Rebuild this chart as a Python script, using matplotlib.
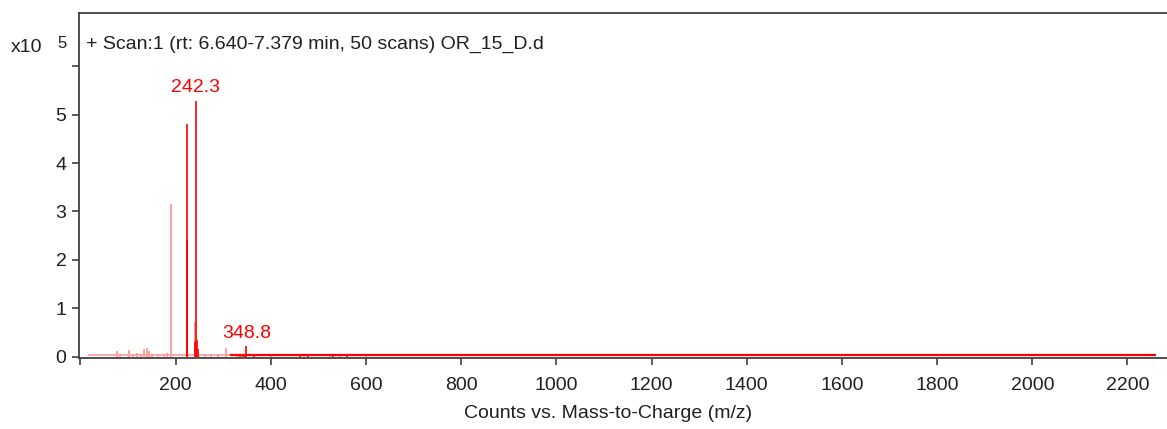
import matplotlib
matplotlib.use("Agg")
import matplotlib.pyplot as plt

plt.rcParams['font.family'] = ['Liberation Sans', 'DejaVu Sans']

# light (pink) spectrum: m/z and intensity (x10^5)
pink_mz = [77, 83, 103, 110, 119, 128, 133, 139, 144, 150, 162, 175, 181, 189.5, 241, 250, 262, 275, 290, 306, 330, 400, 470, 524, 545, 600]
pink_int = [0.12, 0.05, 0.13, 0.05, 0.07, 0.06, 0.15, 0.17, 0.12, 0.05, 0.05, 0.06, 0.07, 3.16, 0.71, 0.06, 0.05, 0.05, 0.06, 0.18, 0.04, 0.03, 0.03, 0.05, 0.04, 0.03]
pink_range = [15, 630]

# red spectrum
red_mz = [223.2, 224.2, 240.5, 242.3, 244.3, 246, 335, 341, 345, 348.8, 365, 462, 479, 530, 560]
red_int = [2.4, 4.81, 0.3, 5.29, 0.35, 0.15, 0.04, 0.05, 0.06, 0.21, 0.04, 0.04, 0.04, 0.03, 0.03]
red_range = [315, 2260]
baseline = 0.03

labels_mz = [242.3, 348.8]
labels_y = [5.29, 0.21]

xticks = [200, 400, 600, 800, 1000, 1200, 1400, 1600, 1800, 2000, 2200]
yticks = [0, 1, 2, 3, 4, 5]

fig = plt.figure(figsize=(11.67, 4.29), dpi=100)
ax = fig.add_axes([79/1167, 1-358/429, 1-79/1167, (358-13)/429])

pink = '#ffa0a0'
red = '#ff0000'
ax.plot(pink_range, [baseline, baseline], color=pink, lw=1.3, solid_capstyle='butt')
ax.vlines(pink_mz, 0, pink_int, color=pink, lw=1.4)
ax.plot(red_range, [baseline, baseline], color=red, lw=1.6, solid_capstyle='butt')
ax.vlines(red_mz, 0, red_int, color=red, lw=1.2)

for mz, y in zip(labels_mz, labels_y):
    ax.text(mz, y + 0.1, f"{mz:.1f}", color=red, fontsize=14, ha='center', va='bottom')

ax.set_xlim(-3, 2283)
ax.set_ylim(-0.03, 7.1)
ax.set_xticks([0] + xticks)
ax.set_xticklabels([''] + [str(t) for t in xticks])
ax.set_yticks(yticks + [6])
ax.set_yticklabels([str(t) for t in yticks] + [''])

spine_col = '#404040'
for s in ['left', 'top', 'bottom']:
    ax.spines[s].set_color(spine_col)
    ax.spines[s].set_linewidth(1.3)
ax.spines['right'].set_visible(False)
ax.tick_params(axis='both', colors=spine_col, labelcolor='#202020', length=5, width=1.2, labelsize=14)
ax.tick_params(axis='x', pad=9)
ax.tick_params(axis='y', pad=4)

ax.text(0.006, 0.91, "+ Scan:1 (rt: 6.640-7.379 min, 50 scans) OR_15_D.d", transform=ax.transAxes,
        fontsize=14, color='#202020', ha='left', va='center')
fig.text(11/1167, 1-48/429, "x10", fontsize=14, color='#202020', ha='left', va='center')
fig.text(62/1167, 1-43/429, "5", fontsize=12, color='#202020', ha='center', va='center')
fig.text(608/1167, 1-413/429, "Counts vs. Mass-to-Charge (m/z)", fontsize=14, color='#202020', ha='center', va='center')

fig.savefig('out.png', dpi=100)
